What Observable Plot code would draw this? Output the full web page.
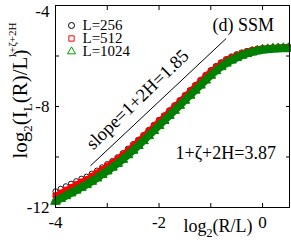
<!DOCTYPE html>
<html><head><meta charset="utf-8">
<script src="https://cdn.jsdelivr.net/npm/d3@7"></script>
<script src="https://cdn.jsdelivr.net/npm/@observablehq/plot@0.6"></script>
<style>body{margin:0;background:#fff}svg{display:block}</style>
</head><body><div id="chart"></div>
<script>
// log2(R/L) sample positions
const xs = [-4.0,-3.9,-3.8,-3.7,-3.6,-3.5,-3.4,-3.3,-3.2,-3.1,-3.0,-2.9,-2.8,-2.7,-2.6,-2.5,-2.4,-2.3,-2.2,-2.1,-2.0,-1.9,-1.8,-1.7,-1.6,-1.5,-1.4,-1.3,-1.2,-1.1,-1.0,-0.9,-0.8,-0.7,-0.6,-0.5,-0.4,-0.3,-0.2,-0.1,0.0,0.1,0.2,0.3,0.4,0.5];
// log2(I_L(R)/L^(1+zeta+2H)) per system size
const yL256 = [-11.36,-11.26,-11.16,-11.06,-10.96,-10.86,-10.78,-10.66,-10.54,-10.41,-10.28,-10.16,-10.01,-9.85,-9.67,-9.49,-9.32,-9.13,-8.93,-8.73,-8.53,-8.35,-8.15,-7.95,-7.75,-7.55,-7.35,-7.15,-6.95,-6.75,-6.56,-6.40,-6.25,-6.12,-6.02,-5.93,-5.86,-5.80,-5.75,-5.71,-5.69,-5.68,-5.66,-5.65,-5.64,-5.64];
const yL512 = [-11.52,-11.41,-11.30,-11.19,-11.08,-10.97,-10.88,-10.75,-10.62,-10.48,-10.34,-10.21,-10.06,-9.90,-9.72,-9.54,-9.35,-9.16,-8.96,-8.76,-8.56,-8.38,-8.18,-7.98,-7.78,-7.58,-7.38,-7.18,-6.98,-6.78,-6.59,-6.43,-6.28,-6.15,-6.05,-5.96,-5.88,-5.82,-5.77,-5.73,-5.70,-5.69,-5.67,-5.66,-5.65,-5.65];
const yL1024 = [-11.76,-11.65,-11.54,-11.43,-11.32,-11.21,-11.10,-10.97,-10.84,-10.70,-10.56,-10.41,-10.26,-10.10,-9.92,-9.74,-9.55,-9.36,-9.16,-8.96,-8.76,-8.56,-8.36,-8.16,-7.96,-7.76,-7.56,-7.36,-7.16,-6.96,-6.77,-6.59,-6.43,-6.29,-6.17,-6.07,-5.98,-5.91,-5.85,-5.80,-5.76,-5.74,-5.72,-5.71,-5.70,-5.70];
const legendLabels = ["L=256", "L=512", "L=1024"];
const legendColors = ["#000000", "#ff0000", "#00a000"];
const legendSymbols = ["circle", "square", "triangle"];
const xTicks = [-4, -3, -2, -1, 0];
const xTickLabels = [-4, -2, 0];
const yTicks = [-12, -10, -8, -6, -4];
const yTickLabels = [-12, -8];
const yTopLabel = [-4];
const slopeX = [-3.32, -0.71];
const slopeY = [-10.34, -5.32];
const slopeText = "slope=1+2H=1.85";
const panelText = "(d) SSM";
const exponentText = "1+ζ+2H=3.87";
const xTitle = "log2(R/L)";
const yTitle = "log2(IL(R)/L1+ζ+2H)";

const rows = ys => xs.map((x, i) => ({x, y: ys[i]}));
const fmt = d => String(d);

const legendMarks = legendLabels.flatMap((lab, i) => [
  Plot.dot([lab], {frameAnchor: "top-left", dx: 16, dy: 20 + 13 * i, symbol: legendSymbols[i], r: 3, stroke: legendColors[i], strokeWidth: 1, fill: "none"}),
  Plot.text([lab], {frameAnchor: "top-left", dx: 27, dy: 20 + 13 * i, textAnchor: "start", lineAnchor: "middle", fontSize: 15, fill: "#000"})
]);

const plot = Plot.plot({
  width: 291, height: 242,
  marginLeft: 55, marginRight: 2, marginTop: 5, marginBottom: 35,
  x: {domain: [-4, 0.52]},
  y: {domain: [-12, -4]},
  style: {fontFamily: "'Liberation Serif', 'Times New Roman', serif", fontSize: "17px", color: "#000", background: "#fff"},
  marks: [
    Plot.dot(rows(yL256), {x: "x", y: "y", symbol: "circle", r: 2.6, stroke: "#000", strokeWidth: 0.9, fill: "none"}),
    Plot.line(rows(yL512), {x: "x", y: "y", stroke: "#ff0000", strokeWidth: 5}),
    Plot.dot(rows(yL512), {x: "x", y: "y", symbol: "square", r: 2.8, stroke: "#ff0000", strokeWidth: 1, fill: "#ff0000"}),
    Plot.line(rows(yL1024), {x: "x", y: "y", stroke: "#008000", strokeWidth: 7.5}),
    Plot.dot(rows(yL1024), {x: "x", y: "y", symbol: "triangle", r: 3.6, stroke: "#008000", strokeWidth: 1, fill: "#008000"}),
    Plot.line(slopeX.map((x, i) => ({x, y: slopeY[i]})), {x: "x", y: "y", stroke: "#000", strokeWidth: 1}),
    Plot.frame({stroke: "#000", strokeWidth: 1}),
    Plot.axisX(xTicks, {anchor: "bottom", tickSize: -4, tickFormat: () => "", label: null}),
    Plot.axisX(xTicks, {anchor: "top", tickSize: -4, tickFormat: () => "", label: null}),
    Plot.axisY(yTicks, {anchor: "left", tickSize: -4, tickFormat: () => "", label: null}),
    Plot.axisY(yTicks, {anchor: "right", tickSize: -4, tickFormat: () => "", label: null}),
    Plot.axisX(xTickLabels, {anchor: "bottom", tickSize: 0, tickPadding: 8, tickFormat: fmt, fontSize: 17, label: null}),
    Plot.axisY(yTickLabels, {anchor: "left", tickSize: 0, tickPadding: 6, tickFormat: fmt, fontSize: 17, label: null}),
    Plot.axisY(yTopLabel, {anchor: "left", tickSize: 0, tickPadding: 6, tickFormat: fmt, fontSize: 17, label: null, dy: 6}),
    ...legendMarks,
    Plot.text([panelText], {frameAnchor: "top-left", dx: 157, dy: 25, textAnchor: "start", lineAnchor: "bottom", fontSize: 18, fill: "#000"}),
    Plot.text([exponentText], {frameAnchor: "top-left", dx: 120, dy: 153, textAnchor: "start", lineAnchor: "bottom", fontSize: 18, fill: "#000"}),
    Plot.text([slopeText], {frameAnchor: "top-left", dx: 82, dy: 94, rotate: -44, textAnchor: "middle", lineAnchor: "middle", fontSize: 18.5, fill: "#000"}),
    Plot.text([xTitle], {frameAnchor: "bottom-left", dx: 128, dy: 24, textAnchor: "start", lineAnchor: "bottom", fontSize: 18, fill: "#000"}),
    Plot.text([yTitle], {frameAnchor: "bottom-left", dx: -29, dy: -49, rotate: -90, textAnchor: "start", lineAnchor: "bottom", fontSize: 21, fill: "#000"})
  ]
});

// rich text: subscripts / superscripts
function rich(svg, key, parts) {
  d3.select(svg).selectAll("text").filter(function () { return this.textContent === key; }).each(function () {
    const t = d3.select(this);
    t.text(null);
    for (const p of parts) {
      const ts = t.append("tspan").text(p.s);
      if (p.size) ts.attr("font-size", p.size);
      if (p.dy) ts.attr("dy", p.dy);
      if (p.dx) ts.attr("dx", p.dx);
    }
  });
}
rich(plot, xTitle, [{s: "log"}, {s: "2", size: 12, dy: 5}, {s: "(R/L)", dy: -5}]);
rich(plot, yTitle, [{s: "log"}, {s: "2", size: 13, dy: 5}, {s: "(I", dy: -5}, {s: "L", size: 13, dy: 5}, {s: "(R)/L", dy: -5}, {s: ")"}, {s: "1+ζ+2H", size: 11, dx: -9, dy: -11}]);

document.getElementById("chart").appendChild(plot);
</script>
</body></html>
